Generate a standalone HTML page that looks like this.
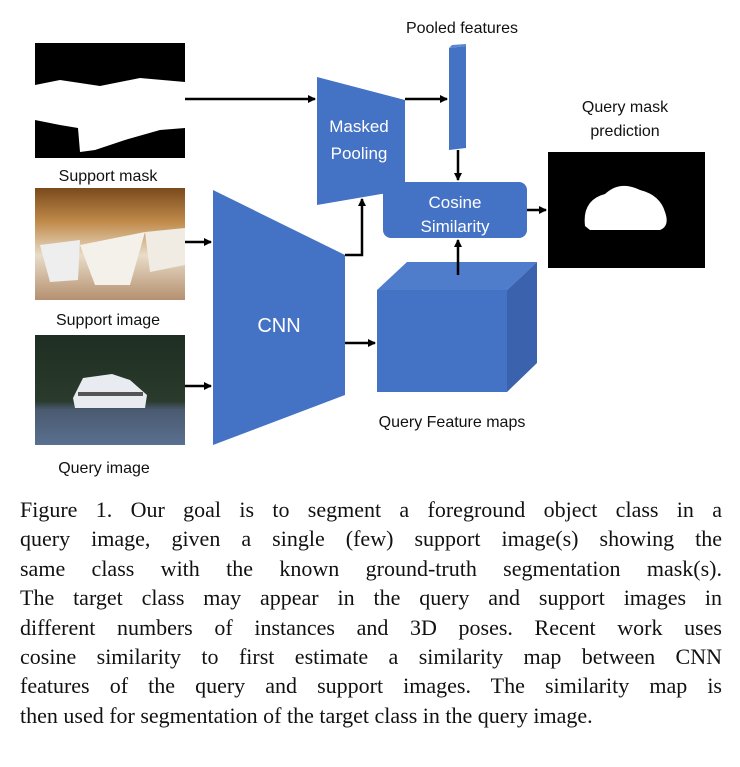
<!DOCTYPE html>
<html><head><meta charset="utf-8"><style>
body{margin:0;background:#fff;width:740px;height:767px;overflow:hidden;position:relative;font-family:"Liberation Sans","DejaVu Sans",sans-serif}
.cap{position:absolute;left:20px;width:702px;font-family:"Liberation Serif",serif;font-size:22px;color:#111}
.cap div{height:29.4px;line-height:29.4px;text-align:justify;text-align-last:justify;white-space:nowrap}
.cap div.l{text-align-last:left}
</style></head><body>
<svg width="740" height="480" style="position:absolute;left:0;top:0">
<defs>
<marker id="a" markerWidth="8" markerHeight="8" refX="7" refY="4" orient="auto" markerUnits="userSpaceOnUse"><path d="M0,0 L8,4 L0,8 z" fill="#000"/></marker>
<linearGradient id="sup" x1="0" y1="0" x2="0" y2="1"><stop offset="0" stop-color="#7a4a1c"/><stop offset="0.3" stop-color="#c08a4a"/><stop offset="0.6" stop-color="#e8dcc8"/><stop offset="1" stop-color="#b59070"/></linearGradient>
<linearGradient id="qry" x1="0" y1="0" x2="0" y2="1"><stop offset="0" stop-color="#1e2e22"/><stop offset="0.6" stop-color="#2a3a2c"/><stop offset="0.68" stop-color="#4a5a70"/><stop offset="1" stop-color="#5a7090"/></linearGradient>
</defs>
<!-- support mask -->
<rect x="35" y="43" width="150" height="115" fill="#000"/>
<path d="M35,85 L60,80 L100,86 L140,78 L185,82 L185,128 L160,130 L125,140 L95,150 L80,152 L78,128 L60,125 L35,120 Z" fill="#fff"/>
<!-- support image -->
<rect x="35" y="188" width="150" height="112" fill="url(#sup)"/>
<path d="M40,245 L80,240 L78,280 L50,282 Z" fill="#eee"/>
<path d="M80,245 L145,232 L130,285 L95,285 Z" fill="#f4f0ea"/>
<path d="M145,232 L185,228 L185,265 L150,272 Z" fill="#f0ece4"/>
<!-- query image -->
<rect x="35" y="335" width="150" height="110" fill="url(#qry)"/>
<path d="M73,398 L83,378 L112,374 L130,380 L147,395 L145,408 L75,408 Z" fill="#e8ecf0"/>
<rect x="78" y="392" width="65" height="4" fill="#555"/>
<!-- CNN -->
<polygon points="213,190 345,255 345,395 213,445" fill="#4472c4"/>
<!-- Masked pooling -->
<polygon points="317,77 405,100 405,190 317,205" fill="#4472c4"/>
<!-- pooled bar -->
<polygon points="449,48 466,46 466,148 449,150" fill="#4472c4"/>
<polygon points="449,48 452,45 466,44 466,46" fill="#5a86d4"/>
<!-- cosine -->
<rect x="383" y="182" width="144" height="56" rx="8" fill="#4472c4"/>
<!-- cube -->
<polygon points="377,290 407,262 537,262 507,290" fill="#4f7ccb"/>
<polygon points="507,290 537,262 537,363 507,392" fill="#3a62ad"/>
<rect x="377" y="290" width="130" height="102" fill="#4472c4"/>
<!-- query mask prediction -->
<rect x="548" y="152" width="157" height="116" fill="#000"/>
<path d="M585,226 Q582,200 605,194 Q620,180 640,190 Q660,195 665,212 Q670,226 660,230 L590,230 Z" fill="#fff"/>
<!-- arrows -->
<g stroke="#000" stroke-width="2.5" fill="none">
<line x1="185" y1="99" x2="315" y2="99" marker-end="url(#a)"/>
<line x1="405" y1="99" x2="447" y2="99" marker-end="url(#a)"/>
<line x1="458" y1="150" x2="458" y2="180" marker-end="url(#a)"/>
<polyline points="345,255 362,255 362,199" marker-end="url(#a)"/>
<line x1="458" y1="275" x2="458" y2="240" marker-end="url(#a)"/>
<line x1="527" y1="210" x2="546" y2="210" marker-end="url(#a)"/>
<line x1="185" y1="242" x2="211" y2="242" marker-end="url(#a)"/>
<line x1="185" y1="386" x2="211" y2="386" marker-end="url(#a)"/>
<line x1="345" y1="343" x2="375" y2="343" marker-end="url(#a)"/>
</g>
<g font-family="Liberation Sans,sans-serif" font-size="17" fill="#fff" text-anchor="middle">
<text x="359" y="132">Masked</text><text x="359" y="159">Pooling</text>
<text x="455" y="208">Cosine</text><text x="455" y="232">Similarity</text>
<text x="279" y="332" font-size="20">CNN</text>
</g>
<g font-family="Liberation Sans,sans-serif" font-size="16" fill="#111" text-anchor="middle">
<text x="462" y="33">Pooled features</text>
<text x="625" y="112">Query mask</text><text x="625" y="136">prediction</text>
<text x="108" y="181">Support mask</text>
<text x="108" y="325">Support image</text>
<text x="104" y="473">Query image</text>
<text x="452" y="427">Query Feature maps</text>
</g>
</svg>
<div class="cap" style="top:495px">
<div>Figure 1. Our goal is to segment a foreground object class in a</div>
<div>query image, given a single (few) support image(s) showing the</div>
<div>same class with the known ground-truth segmentation mask(s).</div>
<div>The target class may appear in the query and support images in</div>
<div>different numbers of instances and 3D poses. Recent work uses</div>
<div>cosine similarity to first estimate a similarity map between CNN</div>
<div>features of the query and support images. The similarity map is</div>
<div class="l">then used for segmentation of the target class in the query image.</div>
</div>
</body></html>
